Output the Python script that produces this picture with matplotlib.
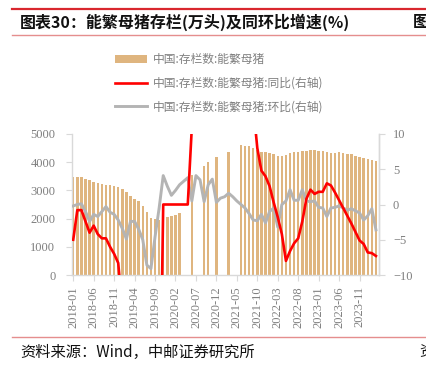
import numpy as np
import pandas as pd
import matplotlib
matplotlib.use("Agg")
import matplotlib.pyplot as plt
from matplotlib.patches import Patch
from matplotlib.lines import Line2D

plt.rcParams['font.family'] = ['Noto Sans CJK SC', 'DejaVu Sans']

nan = np.nan
months = list(pd.period_range('2018-01', periods=75, freq='M').strftime('%Y-%m'))

# 中国:存栏数:能繁母猪 (万头)
sows = [3460, 3460, 3460, 3420, 3360, 3300, 3250, 3215, 3190, 3180, 3145, 3110,
        3050, 2930, 2810, 2710, 2640, 2440, 2220, 2010, 1970, 1950, 2000, 2068,
        2095, 2130, 2190, nan, nan, 3560, nan, nan, 3860, 3990, nan, 4200,
        nan, nan, 4360, nan, nan, 4600, 4585, 4560, 4500, 4420, 4350, 4345,
        4325, 4290, 4230, 4215, 4245, 4310, 4345, 4370, 4390, 4400, 4415, 4420,
        4410, 4385, 4360, 4335, 4310, 4345, 4325, 4300, 4275, 4235, 4195, 4150,
        4115, 4080, 4045]

# 同比 (%)
yoy = [-5.0, -0.8, -0.8, -2.4, -4.0, -3.0, -4.2, -4.8, -4.8, -6.0, -7.0, -8.3,
       -14.8, -19.1, -21.0, -22.3, -23.9, -26.7, -31.6, -32.9, -38.1, -37.8, 0.0, 0.0,
       0.0, 0.0, 0.0, 0.0, 0.0, 11.0, 25.0, 28.0, 30.0, 32.0, 35.0, 38.0,
       40.0, 45.0, 50.0, 55.0, 60.0, 55.0, 45.0, 30.0, 14.0, 8.0, 4.8, 4.0,
       2.6, 0.3, -1.8, -4.2, -8.0, -6.6, -5.5, -4.8, -2.4, 0.8, 2.1, 1.5,
       1.8, 1.8, 3.0, 2.7, 1.7, 0.6, -0.5, -1.6, -2.7, -3.9, -5.1, -5.6,
       -6.8, -6.9, -7.3]

# 环比 (%)
mom = [-0.2, 0.0, 0.1, -1.0, -2.4, -1.4, -1.7, -1.0, -0.3, -1.1, -1.4, -2.2,
       -3.4, -4.9, -2.4, -2.4, -3.5, -5.0, -8.6, -9.1, -4.6, -0.5, 4.1, 2.6,
       1.3, 2.0, 2.8, 3.3, 3.8, 0.5, 4.1, 3.5, 0.4, 2.8, 3.6, 0.3,
       0.9, 1.1, 1.6, 1.1, 0.5, 0.0, -0.5, -1.3, -2.2, -2.3, -1.4, -2.6,
       -1.0, -0.5, -3.2, 0.0, 0.5, 2.1, 0.6, 0.6, 2.1, 0.5, 0.4, 0.5,
       -0.4, -0.5, -1.7, -0.5, -0.4, -0.2, -0.5, -0.8, -0.6, -0.9, -1.2, -2.2,
       -1.6, -0.6, -3.6]

tick_idx = list(range(0, 75, 5))
tick_labels = [months[i] for i in tick_idx]

W, H = 427, 367
fig = plt.figure(figsize=(W / 100, H / 100), dpi=100)

# header / footer decorations
fig.add_artist(Line2D([12 / W, 1], [1 - 8.5 / H] * 2, color='#D9272E', lw=1.6))
fig.add_artist(Line2D([12 / W, 1], [1 - 35 / H] * 2, color='#E58E8E', lw=1.0))
fig.add_artist(Line2D([12 / W, 1], [1 - 337 / H] * 2, color='#E58E8E', lw=1.0))
fig.text(20 / W, 1 - 22 / H, '图表30：能繁母猪存栏(万头)及同环比增速(%)', fontsize=11.5,
         fontweight='bold', va='center', ha='left', color='#111111')
fig.text(413 / W, 1 - 22 / H, '图', fontsize=11.5, fontweight='bold', va='center',
         ha='left', color='#111111')
fig.text(20 / W, 1 - 352 / H, '资料来源：Wind，中邮证券研究所', fontsize=11,
         va='center', ha='left', color='#111111')
fig.text(419 / W, 1 - 352 / H, '资', fontsize=11, va='center', ha='left', color='#111111')

ax = fig.add_axes([72 / W, 1 - 275 / H, (379 - 72) / W, (275 - 134) / H])
ax2 = ax.twinx()

bar_color = '#DFB57F'
x = np.arange(len(months))
ax.bar(x, sows, width=0.6, color=bar_color, zorder=2)
ax.set_ylim(0, 5000)
ax.set_yticks([0, 1000, 2000, 3000, 4000, 5000])
ax.set_xlim(-0.3, 74.75)
ax.set_xticks(tick_idx)
ax.set_xticklabels(tick_labels, rotation=90)

ax2.plot(x, yoy, color='#FF0000', lw=1.9, zorder=4)
ax2.plot(x, mom, color='#B4B4B4', lw=2.1, zorder=3)
ax2.set_ylim(-10, 10)
ax2.set_yticks([-10, -5, 0, 5, 10])
ax2.set_zorder(ax.get_zorder() + 1)
ax2.patch.set_visible(False)

spine_c = '#D9D9D9'
for a in (ax, ax2):
    a.spines['top'].set_visible(False)
    for s in ('left', 'right', 'bottom'):
        a.spines[s].set_color(spine_c)
        a.spines[s].set_linewidth(1.0)
ax2.spines['left'].set_visible(False)
ax2.spines['bottom'].set_visible(False)

ax.tick_params(axis='y', length=4, color=spine_c, pad=8, labelcolor='#7F7F7F')
ax.tick_params(axis='x', length=4, color=spine_c, pad=4, labelcolor='#7F7F7F')
ax2.tick_params(axis='y', length=4, color=spine_c, pad=6, labelcolor='#7F7F7F')
for lab in ax.get_yticklabels() + ax.get_xticklabels() + ax2.get_yticklabels():
    lab.set_fontfamily('Liberation Serif')
    lab.set_fontsize(9)

handles = [Patch(facecolor=bar_color, edgecolor='none'),
           Line2D([], [], color='#FF0000', lw=1.9),
           Line2D([], [], color='#B4B4B4', lw=2.1)]
labels = ['中国:存栏数:能繁母猪', '中国:存栏数:能繁母猪:同比(右轴)', '中国:存栏数:能繁母猪:环比(右轴)']
leg = fig.legend(handles, labels, loc='upper left', bbox_to_anchor=(107 / W, 1 - 45 / H),
                 frameon=False, fontsize=8.5, handlelength=2.7, handleheight=0.6,
                 handletextpad=0.45, labelspacing=0.88, borderpad=0.2)
for t in leg.get_texts():
    t.set_color('#808080')

fig.savefig('out.png', dpi=100)
